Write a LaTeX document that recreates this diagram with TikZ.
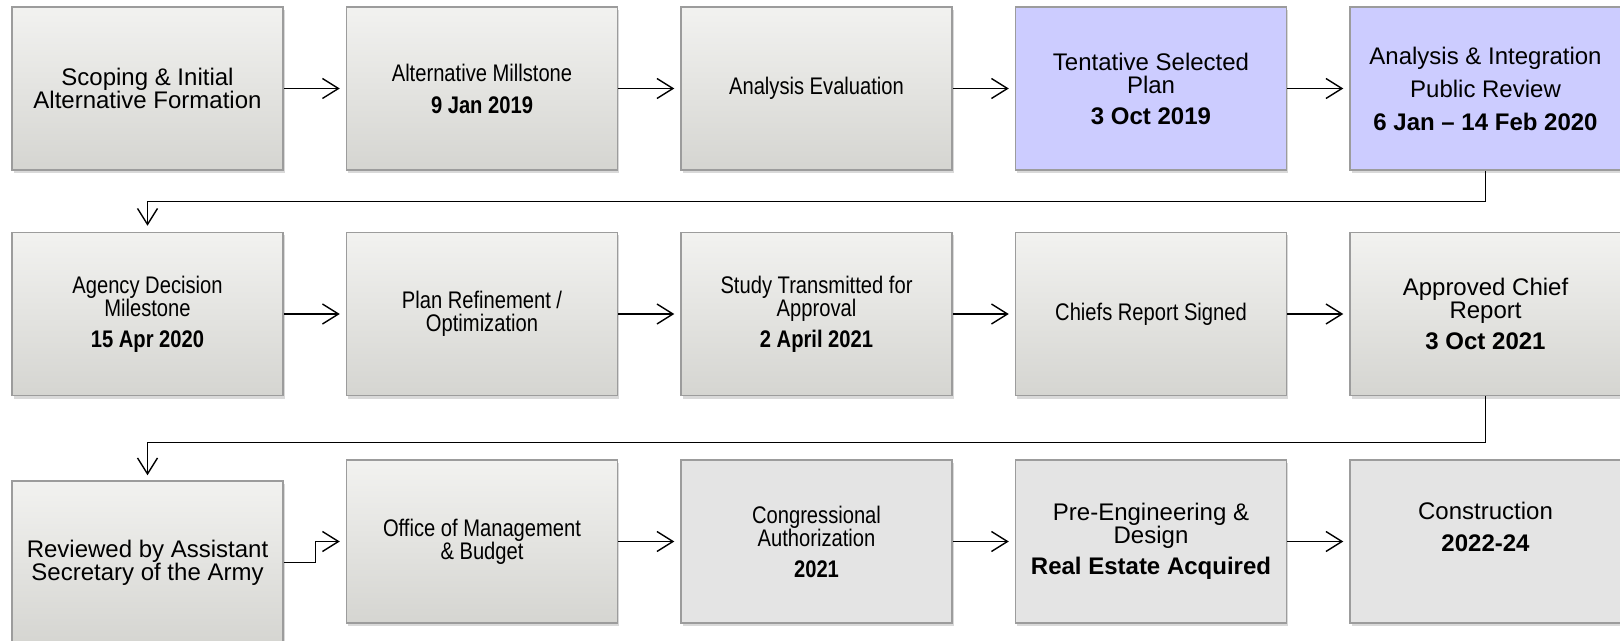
\documentclass[tikz,border=0pt]{standalone}
\usepackage{fontspec}
\setmainfont{Liberation Sans}
\newfontfamily\narrowfont[FakeStretch=0.84]{Liberation Sans}
\usetikzlibrary{positioning, shadows, arrows.meta, calc}

\definecolor{boxline}{HTML}{9C9C9C}
\definecolor{greytop}{HTML}{F2F2F0}
\definecolor{greybot}{HTML}{D5D5D1}
\definecolor{greyflat}{HTML}{E4E4E4}
\definecolor{lavender}{HTML}{CCCCFF}

\begin{document}
\begin{tikzpicture}[
    every node/.style={font=\fontsize{12}{11.5}\selectfont},
    phase/.style={draw=boxline, line width=0.75pt, minimum width=135.5pt, minimum height=81.5pt,
        inner sep=0pt, align=center,
        drop shadow={shadow xshift=0.8pt, shadow yshift=-1.5pt, opacity=0.3}},
    shaded/.style={phase, top color=greytop, bottom color=greybot},
    flat/.style={phase, fill=greyflat},
    public/.style={phase, fill=lavender},
    narrow/.style={font=\fontsize{12}{11.5}\selectfont\narrowfont},
    flow/.style={-{Straight Barb[length=8pt,width=10pt]}, line width=0.7pt, shorten >=3pt},
]
    \useasboundingbox (0,0) rectangle (810pt,-320.5pt);

    % first row
    \node[shaded] (scoping) at (73.75pt,-44.25pt) {Scoping \& Initial\\Alternative Formation};
    \node[shaded, narrow, right=31pt of scoping] (altmile) {Alternative Millstone\\[4.5pt]\textbf{9 Jan 2019}};
    \node[shaded, narrow, right=31pt of altmile] (evaluation) {Analysis Evaluation};
    \node[public, right=31pt of evaluation] (tsp) {Tentative Selected\\Plan\\[4pt]\textbf{3 Oct 2019}};
    \node[public, right=31pt of tsp] (review) {Analysis \& Integration\\[5pt]Public Review\\[5pt]\textbf{6 Jan \textendash{} 14 Feb 2020}};
    \draw[flow] (scoping) -- (altmile);
    \draw[flow] (altmile) -- (evaluation);
    \draw[flow] (evaluation) -- (tsp);
    \draw[flow] (tsp) -- (review);

    % second row
    \node[shaded, narrow, below=30.5pt of scoping] (adm) {Agency Decision\\Milestone\\[4pt]\textbf{15 Apr 2020}};
    \node[shaded, narrow, right=31pt of adm] (refine) {Plan Refinement /\\Optimization};
    \node[shaded, narrow, right=31pt of refine] (transmit) {Study Transmitted for\\Approval\\[4pt]\textbf{2 April 2021}};
    \node[shaded, narrow, right=31pt of transmit] (signed) {Chiefs Report Signed};
    \node[shaded, right=31pt of signed] (approved) {Approved Chief\\Report\\[4pt]\textbf{3 Oct 2021}};
    \coordinate (turn1) at ($(review.south)!0.5!(approved.north)$);
    \draw[flow] (review.south) -- (turn1) -| (adm.north);
    \draw[flow] (adm) -- (refine);
    \draw[flow] (refine) -- (transmit);
    \draw[flow] (transmit) -- (signed);
    \draw[flow] (signed) -- (approved);

    % third row
    \node[shaded, below=42pt of adm] (asa) {Reviewed by Assistant\\Secretary of the Army};
    \node[shaded, narrow, below=31.5pt of refine] (omb) {Office of Management\\\& Budget};
    \node[flat, narrow, right=31pt of omb] (congress) {Congressional\\Authorization\\[4pt]\textbf{2021}};
    \node[flat, right=31pt of congress] (design) {Pre-Engineering \&\\Design\\[4pt]\textbf{Real Estate Acquired}};
    \node[flat, right=31pt of design] (construct) {Construction\\[4.5pt]\textbf{2022-24}\\[3.5pt]\mbox{}};
    \coordinate (turn2) at ([yshift=-23pt]approved.south);
    \coordinate (jog) at ([xshift=16pt]asa.east);
    \draw[flow, shorten >=2.5pt] (approved.south) -- (turn2) -| (asa.north);
    \draw[flow] (asa.east) -- (jog) |- (omb.west);
    \draw[flow] (omb) -- (congress);
    \draw[flow] (congress) -- (design);
    \draw[flow] (design) -- (construct);
\end{tikzpicture}
\end{document}
